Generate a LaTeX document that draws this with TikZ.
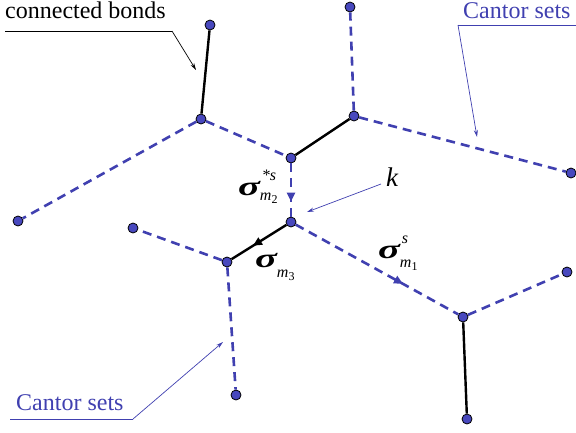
\documentclass[tikz,border=0pt]{standalone}
\usepackage{fontspec}
\setmainfont{LiberationSerif-Regular.ttf}[BoldFont=LiberationSerif-Bold.ttf,ItalicFont=LiberationSerif-Italic.ttf,BoldItalicFont=LiberationSerif-BoldItalic.ttf]
\usetikzlibrary{decorations.markings,arrows.meta}
\definecolor{cblue}{RGB}{64,64,176}
\definecolor{dotblue}{RGB}{72,72,190}
\newcommand{\bigsig}{\scalebox{1.5}[1]{\textbf{\textit{σ}}}}
\newcommand{\sigmalabel}[3]{\bigsig\kern1pt\makebox[0pt][l]{\raisebox{15pt}{\fontsize{16}{16}\selectfont\textit{#1}}}\kern-2pt\raisebox{-#3}{\fontsize{16}{16}\selectfont\textit{m}\raisebox{-3pt}{\fontsize{12}{12}\selectfont #2}}}
\begin{document}
\begin{tikzpicture}[x=1pt,y=-1pt,
  dot/.style={circle,fill=dotblue,draw=black,line width=0.8pt,inner sep=0pt,minimum size=10pt},
  cantor/.style={cblue,line width=2.6pt,dash pattern=on 9pt off 6pt},
  bond/.style={black,line width=2.4pt},
  midarrow/.style={postaction={decorate},decoration={markings,mark=at position #1 with {\arrow{Triangle[length=9pt,width=8pt]}}}},
  note/.style={line width=0.7pt,-{Stealth[length=7pt,width=4pt]}},
  lbl/.style={font=\fontsize{24}{24}\selectfont,inner sep=0pt,anchor=base west},
  sig/.style={font=\fontsize{27}{27}\selectfont,inner sep=0pt,anchor=base west}]
\useasboundingbox (0,0) rectangle (576,432);
% nodes
\node[dot] (A) at (210,25) {};
\node[dot] (B) at (201,119) {};
\node[dot] (C) at (18,221) {};
\node[dot] (D) at (291,158) {};
\node[dot] (E) at (350,7) {};
\node[dot] (F) at (354,116) {};
\node[dot] (G) at (571,173) {};
\node[dot] (H) at (291,222) {};
\node[dot] (I) at (133,228) {};
\node[dot] (J) at (227,262) {};
\node[dot] (K) at (236,395) {};
\node[dot] (L) at (463,317) {};
\node[dot] (M) at (567,272) {};
\node[dot] (N) at (467,419) {};
% edges
\draw[bond] (A) -- (B);
\draw[cantor] (B) -- (C);
\draw[cantor] (B) -- (D);
\draw[bond] (D) -- (F);
\draw[cantor] (F) -- (E);
\draw[cantor] (F) -- (G);
\draw[cantor,midarrow=0.72] (D) -- (H);
\draw[bond,midarrow=0.61] (H) -- (J);
\draw[cantor] (J) -- (I);
\draw[cantor] (J) -- (K);
\draw[cantor,midarrow=0.66] (H) -- (L);
\draw[cantor] (L) -- (M);
\draw[bond] (L) -- (N);
% labels
\node[lbl] (cb) at (5,18) {connected bonds};
\coordinate (cb1) at (5,31);
\coordinate (cb2) at (172,31);
\coordinate (cb3) at (196,70);
\draw[line width=0.7pt] (cb1) -- (cb2);
\draw[note] (cb2) -- (cb3);

\node[lbl,text=cblue] (ct) at (463,18) {Cantor sets};
\coordinate (ct1) at (458,25);
\coordinate (ct2) at (576,25);
\coordinate (ct3) at (477,137);
\draw[cblue,line width=0.7pt] (ct2) -- (ct1);
\draw[note,cblue] (ct1) -- (ct3);

\node[lbl,text=cblue] (cl) at (16,410) {Cantor sets};
\coordinate (cl1) at (10,419);
\coordinate (cl2) at (133,419);
\coordinate (cl3) at (223,342);
\draw[cblue,line width=0.7pt] (cl1) -- (cl2);
\draw[note,cblue] (cl2) -- (cl3);

\node[sig] (k) at (386,186) {\textit{k}};
\coordinate (k1) at (381,184);
\coordinate (k2) at (307,212);
\draw[note,cblue] (k1) -- (k2);

\node[sig] (s2) at (238,195) {\sigmalabel{*s}{2}{5pt}};
\node[sig] (s3) at (255,267) {\sigmalabel{}{3}{10pt}};
\node[sig] (s1) at (378,258) {\sigmalabel{s}{1}{9pt}};
\end{tikzpicture}
\end{document}
